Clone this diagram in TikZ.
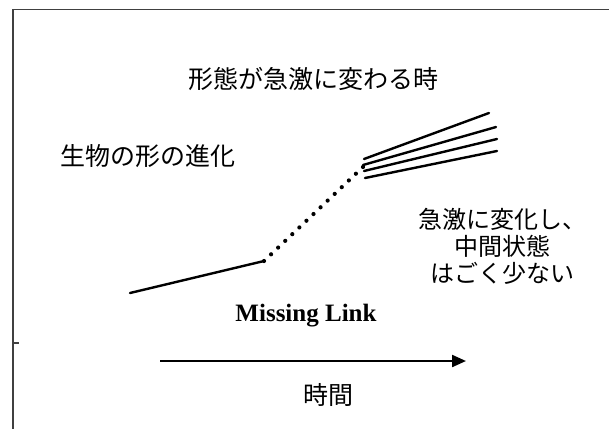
\documentclass[tikz,border=0pt]{standalone}
\usepackage{fontspec}
\setmainfont{Liberation Serif}
\newfontfamily\jpfont{Noto Sans CJK JP}
\usetikzlibrary{arrows.meta}
\begin{document}
\begin{tikzpicture}[x=1pt,y=-1pt,
  jp/.style={font=\jpfont\fontsize{25}{27}\selectfont, inner sep=0pt, align=center},
  frameline/.style={line width=1.2pt, draw=black!75},
  curve/.style={line width=2.4pt, line cap=round},
  dotline/.style={line width=4.2pt, line cap=round, dash pattern=on 0pt off 9.75pt},
  timearrow/.style={line width=2.2pt, -{Triangle[length=14pt,width=12pt]}}]
\useasboundingbox (0,0) rectangle (609,429);
% frame
\coordinate (fTL) at (13,9.5);
\coordinate (fTR) at (609,9.5);
\coordinate (fBL) at (13,429);
\coordinate (tickA) at (13,343);
\coordinate (tickB) at (19,343);
\draw[frameline] (fTR) -- (fTL) -- (fBL);
\draw[frameline] (tickA) -- (tickB);
% texts
\node[jp] (title) at (313,79) {形態が急激に変わる時};
\node[jp] (evo) at (148,156) {生物の形の進化};
\node[jp, font=\jpfont\fontsize{24}{27}\selectfont] (rapid) at (502,246) {急激に変化し、\\中間状態\\はごく少ない};
\node[inner sep=0pt, font=\fontsize{25}{28}\selectfont\bfseries] (ml) at (306,316) {Missing Link};
\node[jp] (time) at (328,395) {時間};
% evolution curve
\coordinate (s0) at (130,293);
\coordinate (s1) at (264,261);
\coordinate (d1) at (363,167);
\draw[curve] (s0) -- (s1);
\draw[dotline] (s1) -- (d1);
\coordinate (a0) at (364,159); \coordinate (a1) at (489,113);
\coordinate (b0) at (363,165); \coordinate (b1) at (496,127);
\coordinate (c0) at (364,171); \coordinate (c1) at (497,139);
\coordinate (e0) at (365,178); \coordinate (e1) at (497,151);
\draw[curve] (a0) -- (a1);
\draw[curve] (b0) -- (b1);
\draw[curve] (c0) -- (c1);
\draw[curve] (e0) -- (e1);
% time arrow
\coordinate (t0) at (160,361);
\coordinate (t1) at (466,361);
\draw[timearrow] (t0) -- (t1);
\end{tikzpicture}
\end{document}
